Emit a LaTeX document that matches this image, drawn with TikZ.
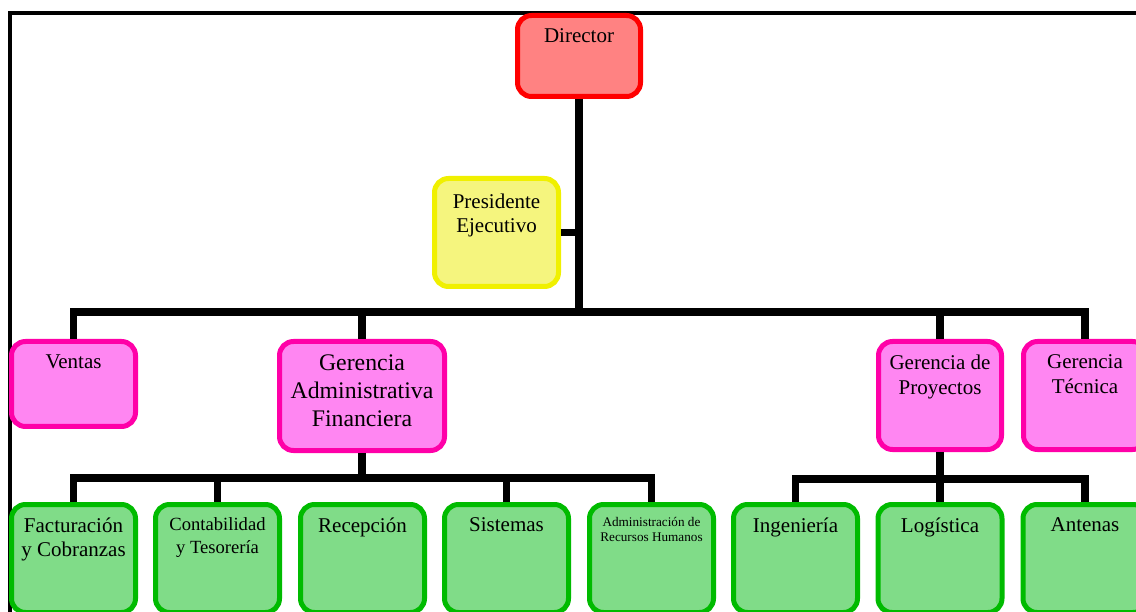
\documentclass[tikz,border=0pt]{standalone}
\usepackage{fontspec}
\setmainfont{Liberation Serif}
\usepackage{tikz}
\usetikzlibrary{calc}
\definecolor{redline}{HTML}{FF0000}
\definecolor{redfill}{HTML}{FF8282}
\definecolor{yelline}{HTML}{F0F000}
\definecolor{yelfill}{HTML}{F5F57E}
\definecolor{pinkline}{HTML}{FF00A8}
\definecolor{pinkfill}{HTML}{FF86F2}
\definecolor{grnline}{HTML}{00BB00}
\definecolor{grnfill}{HTML}{80DC88}
\tikzstyle{box} = [rectangle, rounded corners=14pt, line width=5pt, inner sep=0pt]
\tikzstyle{dirbox} = [box, draw=redline, fill=redfill, minimum width=123pt, minimum height=81pt]
\tikzstyle{prebox} = [box, draw=yelline, fill=yelfill, minimum width=124pt, minimum height=108pt]
\tikzstyle{gerbox} = [box, draw=pinkline, fill=pinkfill, minimum height=108pt]
\tikzstyle{depbox} = [box, draw=grnline, fill=grnfill, minimum width=124pt, minimum height=108pt]
\tikzstyle{txt} = [anchor=north, yshift=-15.5pt, align=center, inner sep=0pt, font=\fontsize{21}{24}\selectfont]
\tikzstyle{conn} = [line width=7.5pt]

\begin{document}
\begin{tikzpicture}[x=1pt, y=-1pt]
    \useasboundingbox (0,0) rectangle (1136,612);
    \clip (0,0) rectangle (1136,612);
    \draw [line width=4pt] (10,640) -- (10,13) -- (1150,13);
    % boxes
    \node (dir) [dirbox] at (579,56) {};
    \node (pre) [prebox] at (496.5,232.5) {};
    \node (ven) [gerbox, minimum width=124pt, minimum height=85pt] at (73.5,384) {};
    \node (gad) [gerbox, minimum width=165pt, minimum height=109pt] at (362,396) {};
    \node (pro) [gerbox, minimum width=123pt] at (940,395.5) {};
    \node (tec) [gerbox, minimum width=123pt] at (1085,395.5) {};
    \node (fac) [depbox] at (73.5,558.5) {};
    \node (con) [depbox] at (217.5,558.5) {};
    \node (rec) [depbox] at (362.5,558.5) {};
    \node (sis) [depbox] at (506.5,558.5) {};
    \node (arh) [depbox] at (651.5,558.5) {};
    \node (ing) [depbox] at (795.5,558.5) {};
    \node (log) [depbox] at (940,558.5) {};
    \node (ant) [depbox] at (1085,558.5) {};
    % joints
    \coordinate (j1) at (579,312);
    \coordinate (j2) at (362,478);
    \coordinate (j3) at (940,479);
    % connectors
    \draw [conn] (dir.south) -- (j1);
    \draw [conn] (pre.east) -- (pre.east -| dir.south);
    \draw [conn] (ven.north) |- (j1) -| (tec.north);
    \draw [conn] (gad.north) -- (gad.north |- j1);
    \draw [conn] (pro.north) -- (pro.north |- j1);
    \draw [conn] (gad.south) -- (j2);
    \draw [conn] (fac.north) |- (j2) -| (arh.north);
    \draw [conn] (con.north) -- (con.north |- j2);
    \draw [conn] (sis.north) -- (sis.north |- j2);
    \draw [conn] (pro.south) -- (j3);
    \draw [conn] (ing.north) |- (j3) -| (ant.north);
    \draw [conn] (log.north) -- (log.north |- j3);
    % texts
    \node (dir-t) [txt] at (dir.north) {Director};
    \node (pre-t) [txt, yshift=-2pt] at (pre.north) {Presidente\\Ejecutivo};
    \node (ven-t) [txt] at (ven.north) {Ventas};
    \node (gad-t) [txt, font=\fontsize{23.8}{28}\selectfont] at (gad.north) {Gerencia\\Administrativa\\Financiera};
    \node (pro-t) [txt, font=\fontsize{21}{25}\selectfont] at (pro.north) {Gerencia de\\Proyectos};
    \node (tec-t) [txt, font=\fontsize{21}{25}\selectfont] at (tec.north) {Gerencia\\Técnica};
    \node (fac-t) [txt] at (fac.north) {Facturación\\y Cobranzas};
    \node (con-t) [txt, font=\fontsize{18.6}{22.5}\selectfont] at (con.north) {Contabilidad\\y Tesorería};
    \node (rec-t) [txt] at (rec.north) {Recepción};
    \node (sis-t) [txt] at (sis.north) {Sistemas};
    \node (arh-t) [txt, font=\fontsize{13.2}{15}\selectfont] at (arh.north) {Administración de\\Recursos Humanos};
    \node (ing-t) [txt] at (ing.north) {Ingeniería};
    \node (log-t) [txt] at (log.north) {Logística};
    \node (ant-t) [txt] at (ant.north) {Antenas};
\end{tikzpicture}
\end{document}
